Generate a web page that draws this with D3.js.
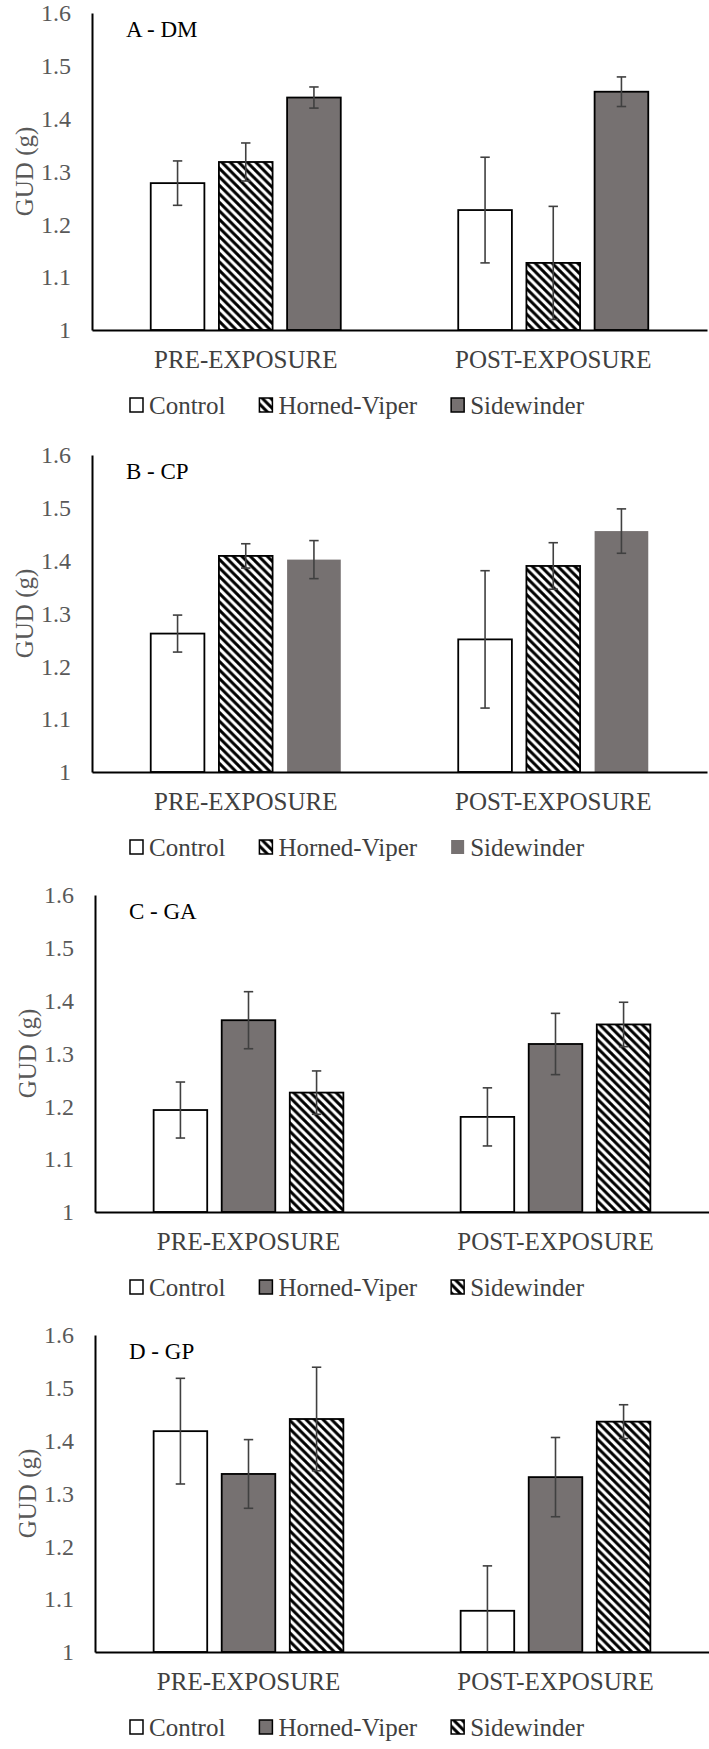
<!DOCTYPE html>
<html>
<head>
<meta charset="utf-8">
<script src="https://cdn.jsdelivr.net/npm/d3@7"></script>
<style>
  html, body { margin: 0; padding: 0; background: #ffffff; }
  svg { display: block; }
  text { font-family: "Liberation Serif", "Times New Roman", Times, serif; }
</style>
</head>
<body>
<script>
// ---------------- DATA ----------------
const groups = ["PRE-EXPOSURE", "POST-EXPOSURE"];
const seriesNames = ["Control", "Horned-Viper", "Sidewinder"];
const panelTitles = ["A - DM", "B - CP", "C - GA", "D - GP"];
const yTicks = [1, 1.1, 1.2, 1.3, 1.4, 1.5, 1.6];
const yLabel = "GUD (g)";

// means per series (Control, Horned-Viper, Sidewinder)
const dmPre = [1.278, 1.318, 1.440];
const dmPreErr = [0.042, 0.036, 0.020];
const dmPost = [1.227, 1.127, 1.451];
const dmPostErr = [0.100, 0.107, 0.028];

const cpPre = [1.262, 1.409, 1.402];
const cpPreErr = [0.035, 0.023, 0.036];
const cpPost = [1.251, 1.390, 1.456];
const cpPostErr = [0.130, 0.044, 0.042];

const gaPre = [1.193, 1.363, 1.226];
const gaPreErr = [0.053, 0.054, 0.041];
const gaPost = [1.180, 1.318, 1.355];
const gaPostErr = [0.055, 0.058, 0.042];

const gpPre = [1.418, 1.337, 1.441];
const gpPreErr = [0.100, 0.065, 0.098];
const gpPost = [1.078, 1.331, 1.436];
const gpPostErr = [0.085, 0.075, 0.032];

// ---------------- DRAW ----------------
const W = 709, H = 1749;
const GRAY = "#767171";
const FONT = "'Liberation Serif', 'Times New Roman', Times, serif";
const svg = d3.select("body").append("svg").attr("width", W).attr("height", H);

const defs = svg.append("defs");
const P = 8.5;
const pat = defs.append("pattern").attr("id", "hatch")
  .attr("patternUnits", "userSpaceOnUse").attr("width", P).attr("height", P);
pat.append("rect").attr("width", P).attr("height", P).attr("fill", "#fff");
pat.append("path").attr("d", `M-1,-1 L${P + 1},${P + 1} M-1,${P - 1} L1,${P + 1} M${P - 1},-1 L${P + 1},1`)
  .attr("stroke", "#000").attr("stroke-width", 3);

const panelData = [
  [dmPre, dmPreErr, dmPost, dmPostErr],
  [cpPre, cpPreErr, cpPost, cpPostErr],
  [gaPre, gaPreErr, gaPost, gaPostErr],
  [gpPre, gpPreErr, gpPost, gpPostErr]
];

// styling per panel (fill, stroke)
const styleA = [
  { fill: "#fff", stroke: "#000" },
  { fill: "url(#hatch)", stroke: "#000" },
  { fill: GRAY, stroke: "#000" }
];
const styleB = [
  { fill: "#fff", stroke: "#000" },
  { fill: "url(#hatch)", stroke: "#000" },
  { fill: GRAY, stroke: "none" }
];
const styleCD = [
  { fill: "#fff", stroke: "#000" },
  { fill: GRAY, stroke: "#000" },
  { fill: "url(#hatch)", stroke: "#000" }
];
const panelStyles = [styleA, styleB, styleCD, styleCD];
const panelTop = [13, 455, 895, 1335];
const panelLeft = [92, 92, 95, 95];
const panelRight = [707, 707, 709, 709];
const plotH = 317;

panelTitles.forEach((title, pi) => {
  const top = panelTop[pi], bottom = top + plotH;
  const left = panelLeft[pi], right = panelRight[pi];
  const [pre, preErr, post, postErr] = panelData[pi];
  const styles = panelStyles[pi];

  const y = d3.scaleLinear().domain([1, 1.6]).range([bottom, top]);
  const x0 = d3.scaleBand().domain(groups).range([left, right]).paddingInner(0).paddingOuter(0);
  const clusterW = x0.bandwidth() * 0.618;
  const x1 = d3.scaleBand().domain(seriesNames).range([-clusterW / 2, clusterW / 2]).paddingInner(0.213).paddingOuter(0);

  const g = svg.append("g");

  const rows = [];
  groups.forEach((grp, gi) => {
    const means = gi === 0 ? pre : post;
    const errs = gi === 0 ? preErr : postErr;
    seriesNames.forEach((s, si) => rows.push({ grp, s, si, v: means[si], e: errs[si] }));
  });

  // bars
  g.selectAll("rect.bar").data(rows).join("rect")
    .attr("class", "bar")
    .attr("x", d => x0(d.grp) + x0.bandwidth() / 2 + x1(d.s))
    .attr("width", x1.bandwidth())
    .attr("y", d => y(d.v))
    .attr("height", d => y(1) - y(d.v))
    .attr("fill", d => styles[d.si].fill)
    .attr("stroke", d => styles[d.si].stroke)
    .attr("stroke-width", 1.8);

  // error bars
  const ex = d => x0(d.grp) + x0.bandwidth() / 2 + x1(d.s) + x1.bandwidth() / 2;
  const eb = g.selectAll("g.err").data(rows).join("g").attr("class", "err")
    .attr("stroke", "#404040").attr("stroke-width", 1.6);
  eb.append("line")
    .attr("x1", ex).attr("x2", ex)
    .attr("y1", d => y(d.v + d.e)).attr("y2", d => y(Math.max(1, d.v - d.e)));
  eb.append("line")
    .attr("x1", d => ex(d) - 4.7).attr("x2", d => ex(d) + 4.7)
    .attr("y1", d => y(d.v + d.e)).attr("y2", d => y(d.v + d.e));
  eb.filter(d => d.v - d.e > 1).append("line")
    .attr("x1", d => ex(d) - 4.7).attr("x2", d => ex(d) + 4.7)
    .attr("y1", d => y(d.v - d.e)).attr("y2", d => y(d.v - d.e));

  // y axis
  const ya = g.append("g").attr("transform", `translate(${left},0)`)
    .call(d3.axisLeft(y).tickValues(yTicks).tickSize(0).tickSizeOuter(0).tickPadding(21)
      .tickFormat(d => d === 1 ? "1" : d3.format(".1f")(d)));
  ya.attr("font-family", FONT);
  ya.select(".domain").attr("stroke", "#000").attr("stroke-width", 2);
  ya.selectAll("text").attr("font-size", 24).attr("fill", "#595959");

  // x axis
  const xa = g.append("g").attr("transform", `translate(0,${bottom})`)
    .call(d3.axisBottom(x0).tickSize(0).tickSizeOuter(0).tickPadding(20));
  xa.attr("font-family", FONT);
  xa.select(".domain").attr("stroke", "#000").attr("stroke-width", 2);
  xa.selectAll("text").attr("font-size", 25).attr("fill", "#404040");

  // y label
  g.append("text")
    .attr("transform", `translate(${left - 68},${(top + bottom) / 2}) rotate(-90)`)
    .attr("text-anchor", "middle").attr("dy", "0.35em")
    .attr("font-size", 25).attr("fill", "#595959")
    .text(yLabel);

  // panel title
  g.append("text").attr("x", left + 34).attr("y", top + 24)
    .attr("font-size", 23).attr("fill", "#000").text(title);

  // legend
  const legY = bottom + 75;
  const leg = g.append("g");
  const items = leg.selectAll("g").data(seriesNames).join("g");
  items.append("rect").attr("class", "sw")
    .attr("width", 13).attr("height", 14).attr("y", legY - 7)
    .attr("fill", (d, i) => styles[i].fill)
    .attr("stroke", (d, i) => styles[i].stroke)
    .attr("stroke-width", 1.5);
  items.append("text").attr("y", legY + 8.5)
    .attr("font-size", 25).attr("fill", "#404040").text(d => d);
  const widths = [];
  items.each(function () { widths.push(d3.select(this).select("text").node().getComputedTextLength()); });
  const swGap = 6, itemGap = 34;
  const total = d3.sum(widths) + widths.length * (13 + swGap) + (widths.length - 1) * itemGap;
  let cx = 357 - total / 2;
  items.each(function (d, i) {
    const s = d3.select(this);
    s.select("rect").attr("x", cx);
    s.select("text").attr("x", cx + 13 + swGap);
    cx += 13 + swGap + widths[i] + itemGap;
  });
});
</script>
</body>
</html>
